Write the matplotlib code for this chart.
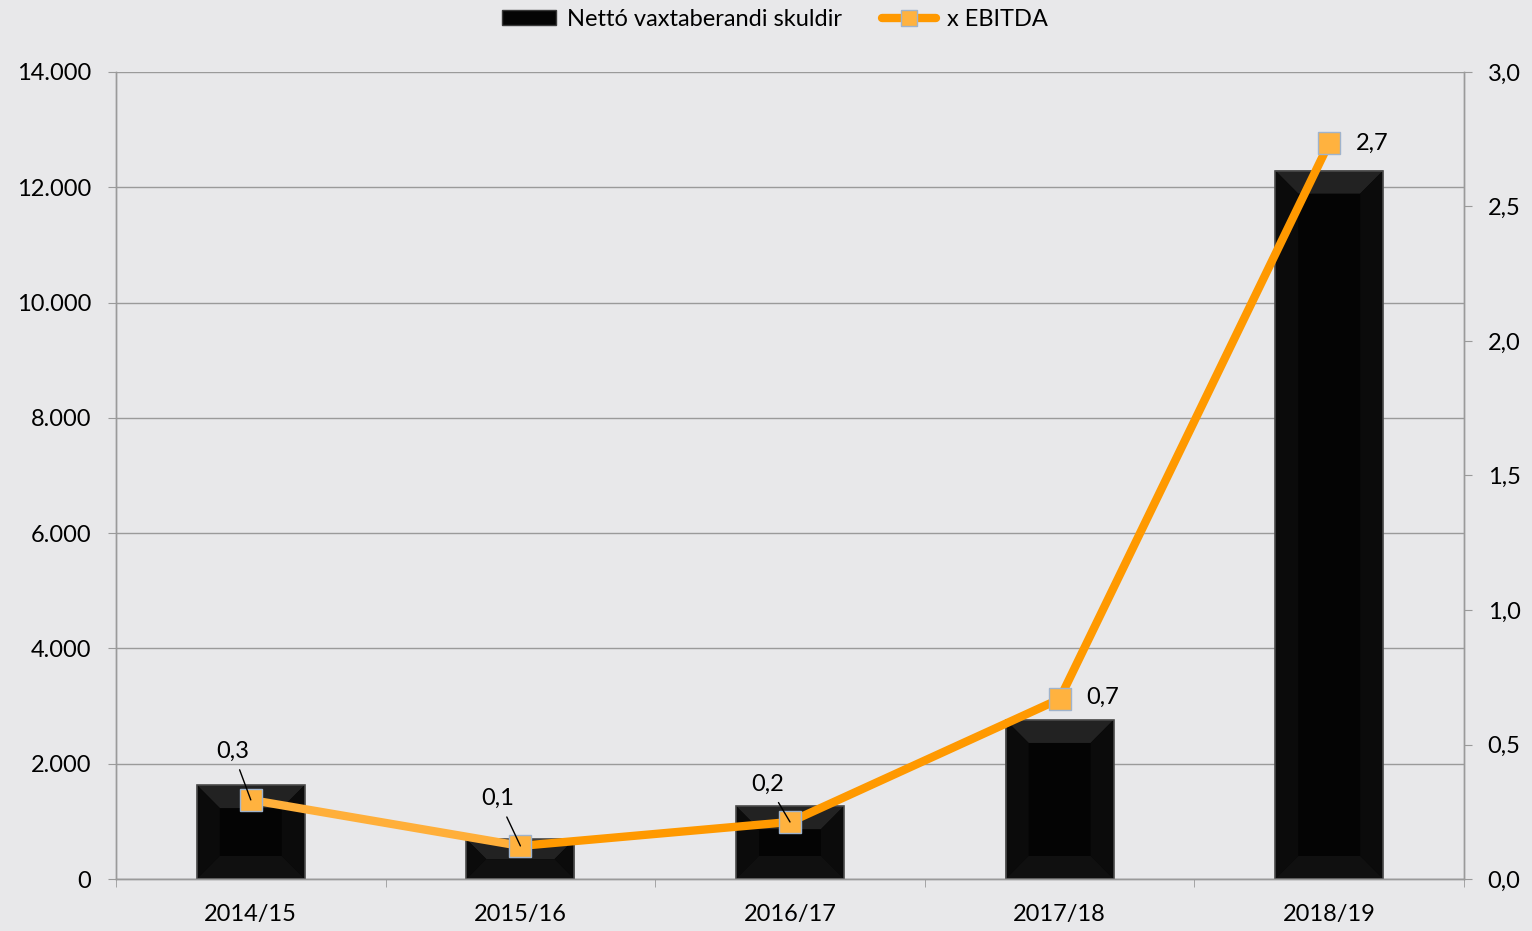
import matplotlib
matplotlib.use('Agg')

import matplotlib.pyplot as plt
from matplotlib.patches import Polygon, Rectangle
from matplotlib.lines import Line2D
from matplotlib.ticker import FuncFormatter, MultipleLocator

#=====Data=====
years = ['2014/15', '2015/16', '2016/17', '2017/18', '2018/19']
debt = [1630, 690, 1265, 2760, 12290]          # Nettó vaxtaberandi skuldir
ebitda_x = [0.294, 0.123, 0.212, 0.669, 2.736]  # x EBITDA
ebitda_labels = ['0,3', '0,1', '0,2', '0,7', '2,7']
#==============

BG = '#E8E8EA'
GRID = '#9A9A9A'
ORANGE = '#FF9900'
ORANGE_LIGHT = '#FFAF3A'
MARKER = '#FFB23F'

plt.rcParams['font.family'] = ['Lato', 'DejaVu Sans']
plt.rcParams['font.size'] = 17

fig = plt.figure(figsize=(15.32, 9.31), dpi=100, facecolor=BG)
ax = fig.add_axes([116 / 1532, 1 - 879 / 931, 1348 / 1532, 807 / 931], facecolor=BG)
ax2 = ax.twinx()

x = list(range(len(years)))
bar_w = 0.4
bars = ax.bar(x, debt, width=bar_w, color='#040404', edgecolor='none', zorder=2)

# subtle bevel effect on bars
bx = 0.085   # bevel depth in x data units
by = 400     # bevel depth in y data units
for b in bars:
    x0, w, h = b.get_x(), b.get_width(), b.get_height()
    x1 = x0 + w
    d = min(by, h / 2)
    dx = bx * d / by
    faces = [
        ([(x0, h), (x1, h), (x1 - dx, h - d), (x0 + dx, h - d)], '#222222'),
        ([(x0, 0), (x0, h), (x0 + dx, h - d), (x0 + dx, d)], '#0b0b0b'),
        ([(x1, 0), (x1, h), (x1 - dx, h - d), (x1 - dx, d)], '#0b0b0b'),
        ([(x0, 0), (x1, 0), (x1 - dx, d), (x0 + dx, d)], '#101010'),
    ]
    for pts, c in faces:
        ax.add_patch(Polygon(pts, closed=True, facecolor=c, edgecolor='none', zorder=2.1))
    ax.add_patch(Rectangle((x0, 0), w, h, fill=False, edgecolor='#4a4a4a', lw=1.2, zorder=2.2))

ax.set_xlim(-0.5, len(years) - 0.5)
ax.set_ylim(0, 14000)
ax.yaxis.set_major_locator(MultipleLocator(2000))
ax.yaxis.set_major_formatter(FuncFormatter(lambda v, p: f'{int(v):,}'.replace(',', '.')))
ax.grid(axis='y', color=GRID, lw=1, zorder=0)
ax.set_axisbelow(True)

ax.set_xticks(x)
ax.set_xticklabels(years)
ax.set_xticks([i - 0.5 for i in range(len(years) + 1)], minor=True)
ax.tick_params(axis='x', which='major', length=0, pad=18)
ax.tick_params(axis='x', which='minor', length=6, color=GRID, direction='out')
ax.tick_params(axis='y', length=6, color=GRID, pad=12)

# line segments: first one lighter
ax2.plot(x[:2], ebitda_x[:2], color=ORANGE_LIGHT, lw=6, solid_capstyle='round', zorder=3)
ax2.plot(x[1:], ebitda_x[1:], color=ORANGE, lw=6, solid_capstyle='round', zorder=3)
ax2.plot(x, ebitda_x, ls='none', marker='s', markersize=16, markerfacecolor=MARKER,
         markeredgecolor='#9FB3CC', markeredgewidth=1, zorder=4)
ax2.set_ylim(0, 3.0)
ax2.yaxis.set_major_locator(MultipleLocator(0.5))
ax2.yaxis.set_major_formatter(FuncFormatter(lambda v, p: f'{v:.1f}'.replace('.', ',')))
ax2.tick_params(axis='y', length=6, color=GRID, pad=11)

# data labels
offsets = [(-13, 35), (-16, 34), (-16, 27), (31, 1), (31, 0)]
for i, (lab, off) in enumerate(zip(ebitda_labels, offsets)):
    arrow = None
    if off[1] > 10:
        arrow = dict(arrowstyle='-', color='black', lw=1, shrinkA=4, shrinkB=0)
    ax2.annotate(lab, (x[i], ebitda_x[i]), xytext=off, textcoords='offset points',
                 ha='center', va='center', fontsize=17, zorder=5, arrowprops=arrow)

for a in (ax, ax2):
    for s in a.spines.values():
        s.set_color(GRID)
        s.set_linewidth(1)
    a.spines['top'].set_visible(False)

# legend
h_bar = Rectangle((0, 0), 1, 1, facecolor='#050505', edgecolor='#3a3a3a')
h_line = Line2D([], [], color=ORANGE, lw=6, solid_capstyle='round', marker='s', markersize=11,
                markerfacecolor=MARKER, markeredgecolor='#9FB3CC')
fig.legend([h_bar, h_line], ['Nettó vaxtaberandi skuldir', 'x EBITDA'],
           loc='center', bbox_to_anchor=(775 / 1532, 1 - 19 / 931), ncol=2, frameon=False,
           fontsize=17, handlelength=2.3, handleheight=0.6, columnspacing=1.7, handletextpad=0.45)

fig.savefig('out.png', dpi=100, facecolor=BG)
